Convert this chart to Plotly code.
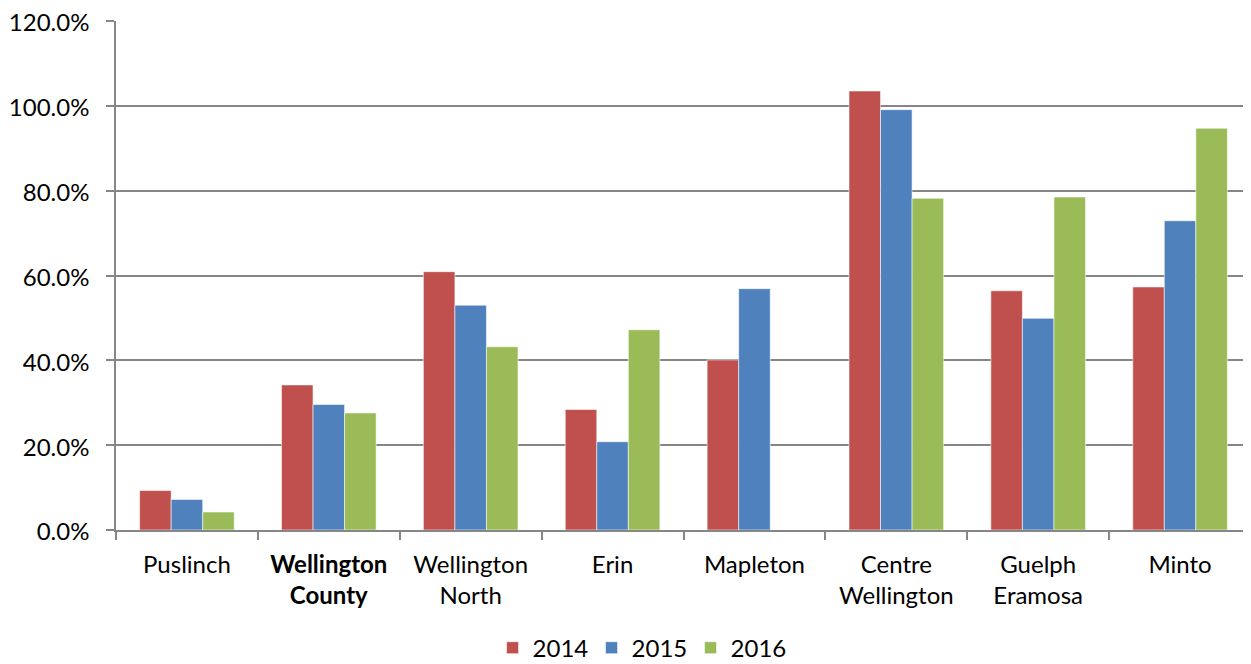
import plotly.graph_objects as go

categories = ["Puslinch", "<b>Wellington<br>County</b>", "Wellington<br>North", "Erin",
              "Mapleton", "Centre<br>Wellington", "Guelph<br>Eramosa", "Minto"]
v2014 = [0.093, 0.342, 0.609, 0.284, 0.401, 1.035, 0.564, 0.573]
v2015 = [0.072, 0.296, 0.530, 0.208, 0.569, 0.991, 0.499, 0.729]
v2016 = [0.0425, 0.276, 0.432, 0.472, None, 0.782, 0.785, 0.947]
years = ["2014", "2015", "2016"]
colors = ["#C0504D", "#4F81BD", "#9BBB59"]
yticks = [0, 0.2, 0.4, 0.6, 0.8, 1.0, 1.2]

FONT = "Lato"
FS = 24

fig = go.Figure()
for name, vals, col in zip(years, [v2014, v2015, v2016], colors):
    fig.add_trace(go.Bar(
        x=categories, y=vals, name=name,
        marker=dict(color=col, line=dict(color="rgba(255,255,255,0.7)", width=0.8)),
    ))

# page body adds an 8px margin, so the figure is sized to fit the 1251x664 window
fig.update_layout(
    width=1243, height=656,
    margin=dict(l=108, r=0, t=13, b=134, autoexpand=False),
    paper_bgcolor="white", plot_bgcolor="white",
    barmode="group", bargap=0.333, bargroupgap=0,
    font=dict(family=FONT, size=FS, color="black"),
    showlegend=True,
    legend=dict(orientation="h", x=0.4626, xanchor="center",
                y=-0.232, yanchor="middle", font=dict(size=FS), traceorder="normal",
                itemwidth=30, entrywidth=54),
)
fig.update_yaxes(
    range=[0, 1.2], tickvals=yticks, tickformat=".1%",
    showgrid=True, gridcolor="#868686", gridwidth=1.5,
    showline=True, linecolor="#868686", linewidth=1.5,
    ticks="outside", ticklen=8, tickcolor="#868686", tickwidth=1.5,
    ticklabelstandoff=12, zeroline=False, automargin=False,
    ticklabeloverflow="allow", ticklabelshift=2,
)
fig.update_xaxes(
    showline=True, linecolor="#868686", linewidth=1.5,
    ticks="outside", ticklen=8, tickcolor="#868686", tickwidth=1.5,
    tickson="boundaries", showgrid=False, ticklabelstandoff=12,
    tickangle=0, automargin=False, ticklabeloverflow="allow",
)
fig.write_html("out.html")
